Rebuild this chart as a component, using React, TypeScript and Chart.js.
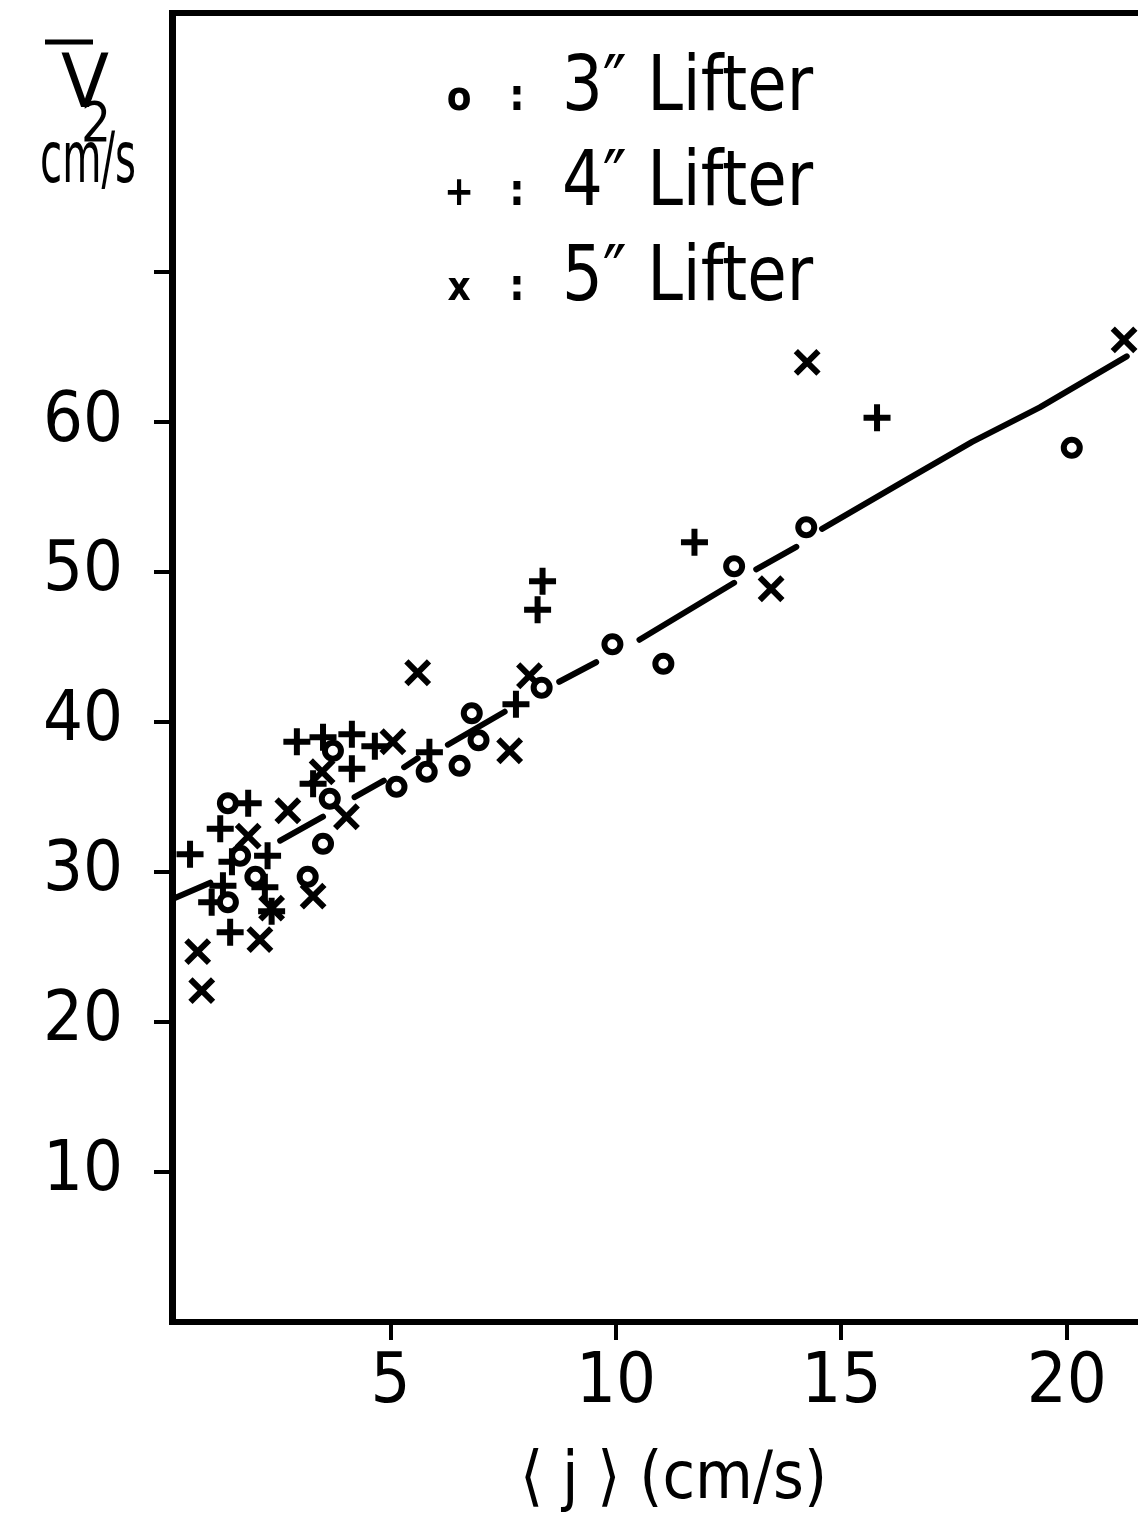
import React, { useEffect, useRef } from 'react';
import { Chart, registerables } from 'chart.js';

Chart.register(...registerables);

const FONT = "'DejaVu Sans Condensed', 'Liberation Sans Narrow', 'DejaVu Sans', sans-serif";

// ---- data ----
const seriesLabels = ['3″ Lifter', '4″ Lifter', '5″ Lifter'];
const legendSymbols = ['o', '+', 'x'];

const lifter3X = [1.39, 1.66, 2.0, 1.39, 3.5, 3.16, 3.65, 3.72, 5.13, 5.8, 6.53, 6.8, 6.95, 8.35, 9.92, 11.05, 12.62, 14.22, 20.11];
const lifter3Y = [34.6, 31.1, 29.7, 28.0, 31.9, 29.7, 34.9, 38.1, 35.7, 36.7, 37.1, 40.6, 38.8, 42.3, 45.2, 43.9, 50.4, 53.0, 58.3];

const lifter4X = [0.55, 1.22, 1.84, 1.48, 2.27, 2.21, 1.28, 1.03, 1.44, 2.36, 2.92, 3.5, 4.14, 4.14, 3.28, 4.65, 5.86, 7.78, 8.37, 8.26, 11.74, 15.79];
const lifter4Y = [31.2, 32.9, 34.6, 30.7, 31.1, 29.0, 29.1, 28.0, 26.0, 27.4, 38.7, 39.0, 39.2, 36.9, 35.9, 38.4, 38.0, 41.2, 49.4, 47.5, 52.0, 60.3];

const lifter5X = [0.72, 0.81, 2.1, 2.36, 1.84, 2.72, 3.28, 4.02, 3.48, 5.05, 5.6, 7.64, 8.08, 13.44, 14.24, 21.27];
const lifter5Y = [24.7, 22.1, 25.5, 27.6, 32.4, 34.1, 28.4, 33.7, 36.7, 38.7, 43.3, 38.1, 43.1, 48.9, 64.0, 65.5];

// hand-drawn fitted curve (null = gap in the pen stroke)
const fitX = [0.15, 1.0, null, 2.55, 3.5, null, 4.2, 4.85, null, 5.3, 5.6, null, 6.27, 7.53, null, 8.74, 9.56, null, 10.52, 12.62, null, 13.11, 14.0, null, 14.57, 16.4, 17.9, 19.4, 21.33];
const fitY = [28.2, 29.3, null, 32.1, 33.7, null, 35.0, 36.1, null, 37.0, 37.6, null, 38.5, 40.7, null, 42.7, 44.0, null, 45.5, 49.3, null, 50.2, 51.7, null, 52.9, 56.1, 58.7, 61.0, 64.4];

const xTickValues = [5, 10, 15, 20];
const yTickValues = [10, 20, 30, 40, 50, 60, 70];
const yTickLabels = ['10', '20', '30', '40', '50', '60', ''];

const xAxisTitle = '⟨ j ⟩ (cm/s)';
const yAxisSymbol = 'V';
const yAxisSubscript = '2';
const yAxisUnit = 'cm/s';

const X_MIN = 0.15;
const X_MAX = 22.4;
const Y_MIN = 0;
const Y_MAX = 87.3;

const zip = (xs: (number | null)[], ys: (number | null)[]) =>
  xs.map((x, i) => ({ x, y: ys[i] }));

function drawFitted(
  ctx: CanvasRenderingContext2D,
  text: string,
  x: number,
  y: number,
  size: number,
  align: CanvasTextAlign,
  targetWidth?: number,
  weight: string = 'normal'
) {
  ctx.save();
  ctx.font = `${weight} ${size}px ${FONT}`;
  ctx.textAlign = align;
  ctx.textBaseline = 'alphabetic';
  let sx = 1;
  if (targetWidth) {
    const w = ctx.measureText(text).width;
    if (w > 0) sx = targetWidth / w;
  }
  ctx.translate(x, y);
  ctx.scale(sx, 1);
  ctx.fillText(text, 0, 0);
  ctx.restore();
}

const figureTextPlugin = {
  id: 'figureText',
  afterDraw(chart: any) {
    const { ctx, chartArea } = chart;
    const L = chartArea.left;
    const T = chartArea.top;
    ctx.save();
    ctx.fillStyle = '#000';
    ctx.strokeStyle = '#000';

    // y-axis title: V-bar sub 2, cm/s
    drawFitted(ctx, yAxisSymbol, L - 87, T + 94, 74, 'center', 48);
    drawFitted(ctx, yAxisSubscript, L - 76, T + 128, 56, 'center', 30);
    ctx.lineWidth = 5;
    ctx.beginPath();
    ctx.moveTo(L - 127, T + 29);
    ctx.lineTo(L - 79, T + 29);
    ctx.stroke();
    drawFitted(ctx, yAxisUnit, L - 84, T + 169, 72, 'center', 96);

    // legend inside the plot
    chart.data.datasets.forEach((ds: any, i: number) => {
      if (!ds.legendSymbol) return;
      const baseY = T + 97 + i * 95;
      drawFitted(ctx, ds.legendSymbol, L + 287, baseY, 40, 'center', undefined, 'bold');
      drawFitted(ctx, ':', L + 345, baseY, 44, 'center', undefined, 'bold');
      drawFitted(ctx, ds.label, L + 390, baseY, 76, 'left', 251);
    });
    ctx.restore();
  },
};

const zeroPadding = (s: any) => {
  s.paddingTop = 0;
  s.paddingBottom = 0;
  s.paddingLeft = 0;
  s.paddingRight = 0;
};

export default function App() {
  const canvasRef = useRef<HTMLCanvasElement | null>(null);

  useEffect(() => {
    const canvas = canvasRef.current;
    if (!canvas) return;
    Chart.defaults.color = '#000';

    const markerBase = {
      showLine: false,
      borderColor: '#000',
      pointBorderColor: '#000',
      pointBorderWidth: 6,
      borderWidth: 6,
      pointHoverRadius: 0,
    };

    const chart = new Chart(canvas, {
      type: 'scatter',
      data: {
        datasets: [
          {
            ...markerBase,
            label: seriesLabels[0],
            legendSymbol: legendSymbols[0],
            data: zip(lifter3X, lifter3Y),
            pointStyle: 'circle',
            pointRadius: 8,
            pointBackgroundColor: '#fff',
            backgroundColor: '#fff',
          } as any,
          {
            ...markerBase,
            label: seriesLabels[1],
            legendSymbol: legendSymbols[1],
            data: zip(lifter4X, lifter4Y),
            pointStyle: 'cross',
            pointRadius: 13.5,
          } as any,
          {
            ...markerBase,
            label: seriesLabels[2],
            legendSymbol: legendSymbols[2],
            data: zip(lifter5X, lifter5Y),
            pointStyle: 'crossRot',
            pointRadius: 16,
          } as any,
          {
            label: 'fit',
            data: zip(fitX, fitY),
            showLine: true,
            spanGaps: false,
            borderColor: '#000',
            borderWidth: 6,
            borderCapStyle: 'round',
            borderJoinStyle: 'round',
            pointRadius: 0,
            pointHoverRadius: 0,
            tension: 0,
          } as any,
        ],
      },
      options: {
        animation: false,
        responsive: false,
        maintainAspectRatio: false,
        devicePixelRatio: 1,
        events: [],
        layout: { autoPadding: false, padding: { top: 13, right: 1, left: 0, bottom: 0 } },
        plugins: {
          legend: { display: false },
          tooltip: { enabled: false },
          title: { display: false },
        },
        scales: {
          x: {
            type: 'linear',
            position: 'bottom',
            min: X_MIN,
            max: X_MAX,
            afterBuildTicks: (s: any) => {
              s.ticks = xTickValues.map((v) => ({ value: v }));
            },
            afterFit: (s: any) => {
              s.height = 198;
              zeroPadding(s);
            },
            grid: {
              display: true,
              drawOnChartArea: false,
              drawTicks: true,
              tickLength: 18,
              color: '#000',
              lineWidth: 4,
            },
            border: { display: true, color: '#000', width: 6 },
            ticks: {
              color: '#000',
              font: { family: FONT, size: 70 },
              padding: 2,
              maxRotation: 0,
              autoSkip: false,
              includeBounds: false,
            },
            title: {
              display: true,
              text: xAxisTitle,
              color: '#000',
              font: { family: FONT, size: 66 },
              padding: { top: 0, bottom: 0 },
            },
          },
          x2: {
            type: 'linear',
            position: 'top',
            min: X_MIN,
            max: X_MAX,
            afterFit: (s: any) => {
              s.height = 0;
              zeroPadding(s);
            },
            grid: { display: true, drawOnChartArea: false, drawTicks: false },
            border: { display: true, color: '#000', width: 6 },
            ticks: { display: false },
          },
          y: {
            type: 'linear',
            position: 'left',
            min: Y_MIN,
            max: Y_MAX,
            afterBuildTicks: (s: any) => {
              s.ticks = yTickValues.map((v) => ({ value: v }));
            },
            afterFit: (s: any) => {
              s.width = 172;
              zeroPadding(s);
            },
            grid: {
              display: true,
              drawOnChartArea: false,
              drawTicks: true,
              tickLength: 18,
              color: '#000',
              lineWidth: 4,
            },
            border: { display: true, color: '#000', width: 7 },
            ticks: {
              color: '#000',
              font: { family: FONT, size: 70 },
              padding: 31,
              autoSkip: false,
              includeBounds: false,
              callback: (v: any) => {
                const idx = yTickValues.indexOf(Number(v));
                return idx >= 0 ? yTickLabels[idx] : '';
              },
            },
          },
        },
      } as any,
      plugins: [figureTextPlugin],
    });

    return () => {
      chart.destroy();
    };
  }, []);

  return (
    <div
      style={{
        position: 'absolute',
        left: 0,
        top: 0,
        width: 1138,
        height: 1520,
        overflow: 'hidden',
        background: '#fff',
      }}
    >
      <canvas ref={canvasRef} width={1176} height={1520} style={{ display: 'block' }} />
    </div>
  );
}
